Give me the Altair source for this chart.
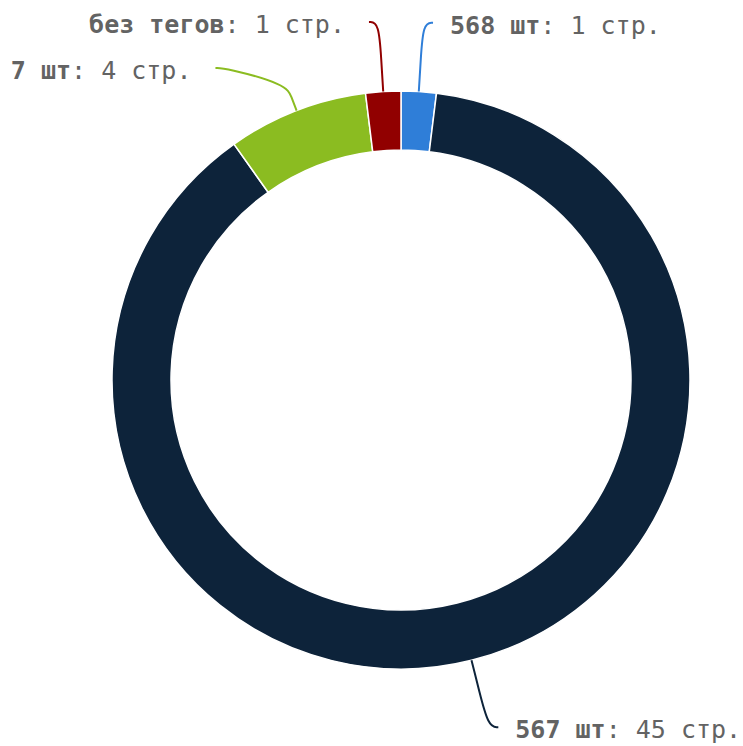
import math
import altair as alt
import pandas as pd

# ---- data -------------------------------------------------------------
names = ["568 шт", "567 шт", "7 шт", "без тегов"]
pages = [1, 45, 4, 1]
unit = "стр."

# ---- style / layout ---------------------------------------------------
colors = ["#2f7ed8", "#0d233a", "#8bbc21", "#910000"]
W, H = 743, 746
CX, CY = 401, 380
R_OUT, R_IN = 289, 230
LABEL_R = 358
SLOT_H = 46
CONN_OFF = 14
HOOK = 10
FONT = "DejaVu Sans Mono"
FS = 25
CW = FS * 1233 / 2048
GAP_R = 17
GAP_L = 24
TEXT_COLOR = "#636363"

total = sum(pages)
arc_df = pd.DataFrame({"name": names, "pages": pages, "ord": list(range(len(names)))})

# ---- label layout (pie-label style slots) ----------------------------
info = []
cum = 0
for i, (n, v) in enumerate(zip(names, pages)):
    mid = (cum + v / 2) / total * 2 * math.pi
    cum += v
    ux, uy = math.sin(mid), -math.cos(mid)
    info.append(dict(i=i, name=n, v=v, ux=ux, uy=uy,
                     side=1 if ux >= 0 else -1, ny=CY + LABEL_R * uy))


def get_x(y, side):
    d = y - CY
    return CX + side * math.sqrt(max(LABEL_R ** 2 - d * d, 0))


for side in (1, -1):
    pts = sorted([p for p in info if p["side"] == side], key=lambda p: p["ny"])
    slots = []
    pos = CY - LABEL_R
    while pos <= CY + LABEL_R:
        slots.append(pos)
        pos += SLOT_H
    free = [True] * len(slots)
    for p in pts:
        k = min((s for s in range(len(slots)) if free[s]),
                key=lambda s: abs(slots[s] - p["ny"]))
        free[k] = False
        p["k"] = k
    for p in pts:
        k = p["k"]
        y = slots[k]
        if (p["ny"] > y and (k + 1 >= len(slots) or free[k + 1])) or \
           (p["ny"] < y and (k - 1 < 0 or free[k - 1])):
            y = p["ny"]
        p["y"] = y
        p["x"] = get_x(p["ny"] if k in (0, len(slots) - 1) else y, side)

line_rows = []
text_rows = []
for p in info:
    s = p["side"]
    mx = p["x"] + HOOK * s
    pts = [
        (mx, p["y"]),
        (p["x"], p["y"]),
        (CX + (R_OUT + 2 * CONN_OFF) * p["ux"], CY + (R_OUT + 2 * CONN_OFF) * p["uy"]),
        (CX + (R_OUT + CONN_OFF) * p["ux"], CY + (R_OUT + CONN_OFF) * p["uy"]),
        (CX + R_OUT * p["ux"], CY + R_OUT * p["uy"]),
    ]
    for j, (px, py) in enumerate(pts):
        line_rows.append({"name": p["name"], "idx": j, "px": px, "py": py})
    rest = f": {p['v']} {unit}"
    n_chars = len(p["name"]) + len(rest)
    if s > 0:
        start = mx + GAP_R
    else:
        start = mx - GAP_L - n_chars * CW
    ty = p["y"] + 3
    text_rows.append({"t": p["name"], "tx": start, "ty": ty, "w": "b"})
    text_rows.append({"t": rest, "tx": start + len(p["name"]) * CW, "ty": ty, "w": "n"})

line_df = pd.DataFrame(line_rows)
text_df = pd.DataFrame(text_rows)

color_scale = alt.Scale(domain=names, range=colors)

arcs = alt.Chart(arc_df).mark_arc(
    innerRadius=R_IN, outerRadius=R_OUT, stroke="white", strokeWidth=1.5
).encode(
    theta=alt.Theta("pages:Q", stack=True),
    order=alt.Order("ord:Q"),
    color=alt.Color("name:N", scale=color_scale, legend=None),
    x=alt.value(CX),
    y=alt.value(CY),
)

connectors = alt.Chart(line_df).mark_line(
    interpolate="basis", strokeWidth=2
).encode(
    x=alt.X("px:Q", scale=None, axis=None),
    y=alt.Y("py:Q", scale=None, axis=None),
    color=alt.Color("name:N", scale=color_scale, legend=None),
    order=alt.Order("idx:Q"),
    detail="name:N",
)

bold_text = alt.Chart(text_df).transform_filter(alt.datum.w == "b").mark_text(
    align="left", baseline="middle", font=FONT, fontSize=FS,
    fontWeight="bold", color=TEXT_COLOR
).encode(
    x=alt.X("tx:Q", scale=None, axis=None),
    y=alt.Y("ty:Q", scale=None, axis=None),
    text="t:N",
)

norm_text = alt.Chart(text_df).transform_filter(alt.datum.w == "n").mark_text(
    align="left", baseline="middle", font=FONT, fontSize=FS,
    fontWeight="normal", color=TEXT_COLOR
).encode(
    x=alt.X("tx:Q", scale=None, axis=None),
    y=alt.Y("ty:Q", scale=None, axis=None),
    text="t:N",
)

chart = alt.layer(arcs, connectors, bold_text, norm_text).properties(
    width=W, height=H, padding=0, autosize=alt.AutoSizeParams(type="none"),
    background="white",
).configure_view(stroke=None)

chart.save("out.html", embed_options={"renderer": "svg", "actions": False})
